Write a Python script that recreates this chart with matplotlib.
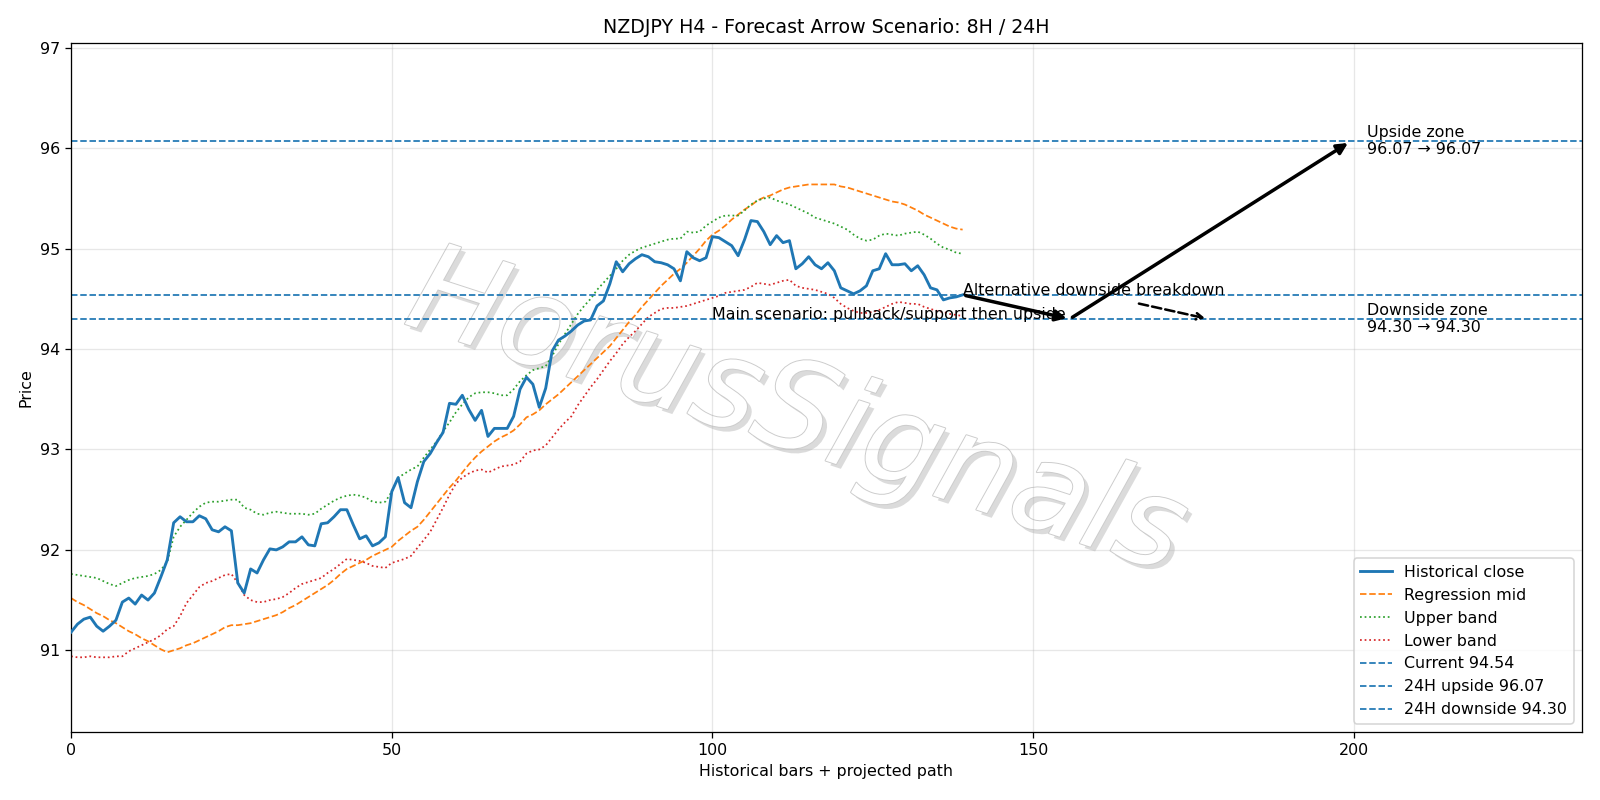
import matplotlib
matplotlib.use("Agg")
import matplotlib.pyplot as plt
import matplotlib.patheffects as pe
import numpy as np

# values (bars 0..139)
close = [
    91.18, 91.26, 91.31, 91.33, 91.24, 91.19, 91.24, 91.30, 91.48, 91.52,
    91.46, 91.55, 91.50, 91.57, 91.73, 91.90, 92.27, 92.33, 92.28, 92.28,
    92.34, 92.31, 92.20, 92.18, 92.23, 92.19, 91.67, 91.57, 91.81, 91.77,
    91.90, 92.01, 92.00, 92.03, 92.08, 92.08, 92.13, 92.05, 92.04, 92.26,
    92.27, 92.33, 92.40, 92.40, 92.25, 92.11, 92.14, 92.04, 92.07, 92.13,
    92.58, 92.72, 92.47, 92.42, 92.68, 92.88, 92.96, 93.07, 93.17, 93.46,
    93.45, 93.54, 93.40, 93.29, 93.39, 93.13, 93.21, 93.21, 93.21, 93.33,
    93.60, 93.72, 93.65, 93.42, 93.61, 93.98, 94.09, 94.13, 94.18, 94.24,
    94.28, 94.29, 94.43, 94.48, 94.65, 94.87, 94.77, 94.85, 94.90, 94.94,
    94.92, 94.87, 94.86, 94.84, 94.80, 94.68, 94.97, 94.91, 94.88, 94.91,
    95.12, 95.11, 95.07, 95.03, 94.93, 95.09, 95.28, 95.27, 95.17, 95.04,
    95.13, 95.06, 95.08, 94.80, 94.85, 94.92, 94.84, 94.80, 94.86, 94.78,
    94.61, 94.58, 94.55, 94.58, 94.63, 94.78, 94.80, 94.95, 94.84, 94.84,
    94.85, 94.78, 94.83, 94.74, 94.61, 94.59, 94.49, 94.51, 94.52, 94.54,
]

mid = [
    91.52, 91.48, 91.45, 91.41, 91.37, 91.34, 91.30, 91.27, 91.23, 91.19,
    91.16, 91.12, 91.09, 91.05, 91.01, 90.98, 91.00, 91.02, 91.05, 91.07,
    91.10, 91.13, 91.16, 91.19, 91.23, 91.25, 91.25, 91.26, 91.27, 91.29,
    91.31, 91.33, 91.35, 91.38, 91.42, 91.45, 91.49, 91.53, 91.57, 91.61,
    91.65, 91.70, 91.76, 91.81, 91.84, 91.87, 91.90, 91.94, 91.97, 92.00,
    92.03, 92.09, 92.14, 92.19, 92.23, 92.30, 92.38, 92.46, 92.54, 92.62,
    92.69, 92.77, 92.85, 92.92, 92.98, 93.03, 93.08, 93.12, 93.15, 93.19,
    93.25, 93.32, 93.35, 93.39, 93.45, 93.50, 93.55, 93.61, 93.67, 93.73,
    93.79, 93.85, 93.91, 93.97, 94.03, 94.11, 94.19, 94.27, 94.34, 94.42,
    94.49, 94.56, 94.63, 94.69, 94.75, 94.80, 94.86, 94.93, 95.00, 95.08,
    95.14, 95.18, 95.23, 95.29, 95.34, 95.39, 95.43, 95.48, 95.51, 95.53,
    95.56, 95.59, 95.61, 95.62, 95.63, 95.64, 95.64, 95.64, 95.64, 95.64,
    95.62, 95.61, 95.59, 95.57, 95.55, 95.53, 95.51, 95.49, 95.47, 95.46,
    95.44, 95.41, 95.38, 95.34, 95.31, 95.28, 95.25, 95.22, 95.20, 95.19,
]

upper = [
    91.76, 91.75, 91.74, 91.73, 91.72, 91.69, 91.66, 91.64, 91.67, 91.70,
    91.72, 91.73, 91.74, 91.76, 91.80, 91.88, 92.13, 92.23, 92.30, 92.37,
    92.43, 92.47, 92.48, 92.48, 92.49, 92.50, 92.50, 92.42, 92.40, 92.36,
    92.35, 92.37, 92.38, 92.37, 92.36, 92.36, 92.36, 92.35, 92.36, 92.41,
    92.45, 92.49, 92.52, 92.54, 92.55, 92.54, 92.52, 92.48, 92.47, 92.48,
    92.58, 92.72, 92.76, 92.80, 92.83, 92.92, 93.00, 93.08, 93.18, 93.27,
    93.37, 93.45, 93.52, 93.56, 93.57, 93.57, 93.56, 93.54, 93.54, 93.60,
    93.68, 93.74, 93.79, 93.81, 93.83, 93.93, 94.05, 94.15, 94.25, 94.35,
    94.43, 94.50, 94.59, 94.66, 94.73, 94.80, 94.88, 94.94, 94.98, 95.01,
    95.03, 95.05, 95.07, 95.09, 95.10, 95.10, 95.17, 95.16, 95.17, 95.23,
    95.27, 95.31, 95.33, 95.33, 95.33, 95.38, 95.44, 95.48, 95.50, 95.51,
    95.48, 95.46, 95.44, 95.41, 95.38, 95.35, 95.31, 95.29, 95.27, 95.25,
    95.22, 95.19, 95.14, 95.10, 95.08, 95.09, 95.13, 95.15, 95.14, 95.13,
    95.15, 95.16, 95.17, 95.14, 95.10, 95.05, 95.01, 94.99, 94.96, 94.95,
]

lower = [
    90.94, 90.93, 90.93, 90.94, 90.93, 90.93, 90.93, 90.94, 90.94, 90.99,
    91.02, 91.05, 91.08, 91.11, 91.15, 91.21, 91.24, 91.34, 91.47, 91.55,
    91.63, 91.67, 91.69, 91.72, 91.75, 91.76, 91.67, 91.55, 91.50, 91.48,
    91.48, 91.50, 91.51, 91.53, 91.57, 91.62, 91.66, 91.68, 91.70, 91.72,
    91.77, 91.81, 91.86, 91.91, 91.90, 91.89, 91.87, 91.84, 91.83, 91.82,
    91.87, 91.89, 91.91, 91.94, 92.02, 92.10, 92.18, 92.30, 92.42, 92.55,
    92.66, 92.72, 92.76, 92.79, 92.80, 92.77, 92.80, 92.83, 92.84, 92.85,
    92.88, 92.96, 92.99, 93.00, 93.04, 93.12, 93.20, 93.27, 93.33, 93.44,
    93.53, 93.62, 93.70, 93.79, 93.88, 93.96, 94.05, 94.12, 94.18, 94.25,
    94.32, 94.36, 94.40, 94.41, 94.41, 94.42, 94.43, 94.45, 94.47, 94.49,
    94.51, 94.53, 94.56, 94.57, 94.58, 94.59, 94.62, 94.66, 94.65, 94.64,
    94.66, 94.68, 94.69, 94.63, 94.61, 94.60, 94.59, 94.57, 94.55, 94.51,
    94.45, 94.41, 94.38, 94.36, 94.36, 94.37, 94.39, 94.42, 94.45, 94.47,
    94.46, 94.45, 94.45, 94.42, 94.40, 94.38, 94.37, 94.35, 94.34, 94.33,
]

current = 94.54
upside = 96.07
downside = 94.30

# projected path x positions (bars)
t_pull = 155.7
t_up = 199.5
alt_start = (166.0, 94.46)
alt_end = (177.3, downside)

x = np.arange(len(close))

fig = plt.figure(figsize=(14, 7), dpi=1600 / 14)
ax = fig.add_axes([0.0444, 0.0855, 0.9441, 0.8609])

# watermark
ax.text(0.48, 0.46, "HorusSignals", transform=ax.transAxes, fontsize=78,
        style="italic", color="white", ha="center", va="center", rotation=-18,
        zorder=0.5,
        path_effects=[pe.SimplePatchShadow(offset=(3, -3), shadow_rgbFace="#999999", alpha=0.35),
                      pe.Stroke(linewidth=1.2, foreground="#cccccc"),
                      pe.Normal()])

ax.plot(x, close, color="C0", lw=1.8, label="Historical close", zorder=3)
ax.plot(x, mid, color="C1", ls="--", lw=1.1, label="Regression mid", zorder=2)
ax.plot(x, upper, color="C2", ls=":", lw=1.1, label="Upper band", zorder=2)
ax.plot(x, lower, color="C3", ls=":", lw=1.1, label="Lower band", zorder=2)

ax.axhline(current, color="C0", ls="--", lw=1.1, label=f"Current {current:.2f}")
ax.axhline(upside, color="C0", ls="--", lw=1.1, label=f"24H upside {upside:.2f}")
ax.axhline(downside, color="C0", ls="--", lw=1.1, label=f"24H downside {downside:.2f}")

# main scenario arrows
ax.annotate("", xy=(t_pull, downside), xytext=(x[-1], current),
            arrowprops=dict(arrowstyle="-|>", color="black", lw=2.2, mutation_scale=14))
ax.annotate("", xy=(t_up, upside), xytext=(t_pull, downside),
            arrowprops=dict(arrowstyle="-|>", color="black", lw=2.2, mutation_scale=14))
ax.text(155, downside, "Main scenario: pullback/support then upside", ha="right",
        va="baseline")

# alternative
ax.annotate("", xy=alt_end, xytext=alt_start,
            arrowprops=dict(arrowstyle="->", color="black", lw=1.6, ls="--"))
ax.text(x[-1], current, "Alternative downside breakdown", ha="left", va="baseline")

ax.text(202, upside, f"Upside zone\n{upside:.2f} \u2192 {upside:.2f}", va="center")
ax.text(202, downside, f"Downside zone\n{downside:.2f} \u2192 {downside:.2f}", va="center")

ax.set_xlim(0, 235.5)
ax.set_ylim(90.19, 97.05)
ax.set_title("NZDJPY H4 - Forecast Arrow Scenario: 8H / 24H")
ax.set_xlabel("Historical bars + projected path")
ax.set_ylabel("Price")
ax.grid(True, alpha=0.3)
ax.legend(loc="lower right")

fig.savefig("out.png", dpi=1600 / 14)
